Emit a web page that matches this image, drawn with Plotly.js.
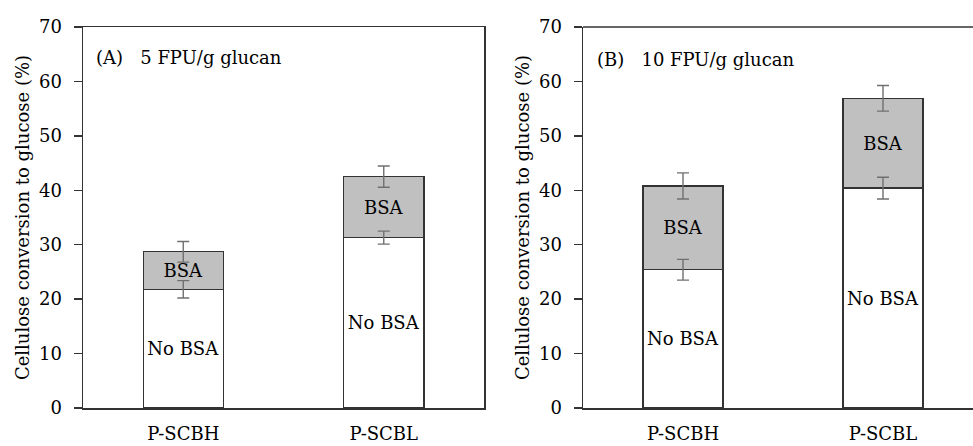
<!DOCTYPE html>
<html>
<head>
<meta charset="utf-8">
<script src="https://cdn.plot.ly/plotly-3.0.1.min.js"></script>
<style>html,body{margin:0;padding:0;background:#fff;}#chart{width:973px;height:446px;}</style>
</head>
<body>
<div id="chart"></div>
<script>
// ---- data ----
const categories = ['P-SCBH', 'P-SCBL'];
// Panel A: 5 FPU/g glucan
const noBsaA = [21.8, 31.3];
const withBsaA = [28.7, 42.5];
const errNoBsaA = [1.6, 1.2];
const errWithBsaA = [1.9, 1.95];
// Panel B: 10 FPU/g glucan
const noBsaB = [25.4, 40.4];
const withBsaB = [40.8, 56.9];
const errNoBsaB = [1.9, 2.0];
const errWithBsaB = [2.4, 2.35];
const yTicks = [0, 10, 20, 30, 40, 50, 60, 70];
const panelTitles = ['(A)\u00a0\u00a0\u00a05 FPU/g glucan', '(B)\u00a0\u00a0\u00a010 FPU/g glucan'];
const yTitle = 'Cellulose conversion to glucose (%)';
const labelNoBsa = 'No BSA';
const labelBsa = 'BSA';

const FONT = 'DejaVu Serif, Liberation Serif, serif';
const TXT = '#000';
const EDGE = '#333';
const GRAY = '#c0c0c0';
const ERR = '#707070';

function panel(noBsa, withBsa, errNo, errWith, xa, ya) {
  const increment = withBsa.map((v, i) => v - noBsa[i]);
  const common = {
    type: 'bar', x: categories, xaxis: xa, yaxis: ya, width: 0.4,
    textposition: 'inside', insidetextanchor: 'middle', textangle: 0,
    constraintext: 'none', hoverinfo: 'skip', showlegend: false,
    insidetextfont: {family: FONT, size: 18, color: TXT}
  };
  return [
    Object.assign({}, common, {
      y: noBsa, text: noBsa.map(() => labelNoBsa),
      marker: {color: '#ffffff', line: {color: EDGE, width: 1.3}}
    }),
    Object.assign({}, common, {
      y: increment, text: increment.map(() => labelBsa),
      marker: {color: GRAY, line: {color: EDGE, width: 1.3}}
    }),
    {
      type: 'scatter', mode: 'markers', x: categories, y: noBsa, xaxis: xa, yaxis: ya,
      marker: {size: 1, opacity: 0}, hoverinfo: 'skip', showlegend: false,
      error_y: {type: 'data', array: errNo, visible: true, color: ERR, thickness: 1.4, width: 6}
    },
    {
      type: 'scatter', mode: 'markers', x: categories, y: withBsa, xaxis: xa, yaxis: ya,
      marker: {size: 1, opacity: 0}, hoverinfo: 'skip', showlegend: false,
      error_y: {type: 'data', array: errWith, visible: true, color: ERR, thickness: 1.4, width: 6}
    }
  ];
}

const data = [].concat(
  panel(noBsaA, withBsaA, errNoBsaA, errWithBsaA, 'x', 'y'),
  panel(noBsaB, withBsaB, errNoBsaB, errWithBsaB, 'x2', 'y2')
);

const W = 973;
function xAxis(d0, d1, range, mirror) {
  return {
    domain: [d0 / W, d1 / W], range: range, type: 'category',
    showline: true, linecolor: EDGE, linewidth: 1.5, mirror: mirror,
    ticks: '', showgrid: false, zeroline: false, fixedrange: true,
    tickfont: {family: FONT, size: 18, color: TXT}, ticklabelstandoff: 9
  };
}
function yAxis(anchor, mirror) {
  return {
    anchor: anchor, range: [0, 70], tickvals: yTicks, ticktext: yTicks.map(String),
    showline: true, linecolor: EDGE, linewidth: 1.5, mirror: mirror,
    ticks: 'outside', ticklen: 8, tickwidth: 1.5, tickcolor: EDGE,
    showgrid: false, zeroline: false, fixedrange: true,
    tickfont: {family: FONT, size: 18, color: TXT}, ticklabelstandoff: 8,
    title: {text: yTitle, font: {family: FONT, size: 18, color: TXT}, standoff: 4}
  };
}

const layout = {
  width: 973, height: 446,
  margin: {l: 0, r: 0, t: 27, b: 38, pad: 0},
  paper_bgcolor: '#ffffff', plot_bgcolor: '#ffffff',
  barmode: 'stack', bargap: 0.6, showlegend: false,
  font: {family: FONT, color: TXT},
  xaxis: xAxis(83, 484, [-0.5, 1.5], true),
  yaxis: yAxis('x', true),
  xaxis2: xAxis(583, 973, [-0.5, 1.45], false),
  yaxis2: yAxis('x2', false),
  annotations: [
    {xref: 'x domain', yref: 'y domain', x: 0.028, y: 0.919, xanchor: 'left', yanchor: 'middle',
     text: panelTitles[0], showarrow: false, font: {family: FONT, size: 18, color: TXT}},
    {xref: 'x2 domain', yref: 'y2 domain', x: 0.030, y: 0.916, xanchor: 'left', yanchor: 'middle',
     text: panelTitles[1], showarrow: false, font: {family: FONT, size: 18, color: TXT}}
  ]
};
// top border line for panel B (no right border visible in reference)
layout.shapes = [
  {type: 'line', xref: 'x2 domain', yref: 'y2 domain', x0: 0, x1: 1, y0: 1, y1: 1,
   line: {color: EDGE, width: 1.5}}
];

Plotly.newPlot('chart', data, layout, {staticPlot: true, displayModeBar: false});
</script>
</body>
</html>
